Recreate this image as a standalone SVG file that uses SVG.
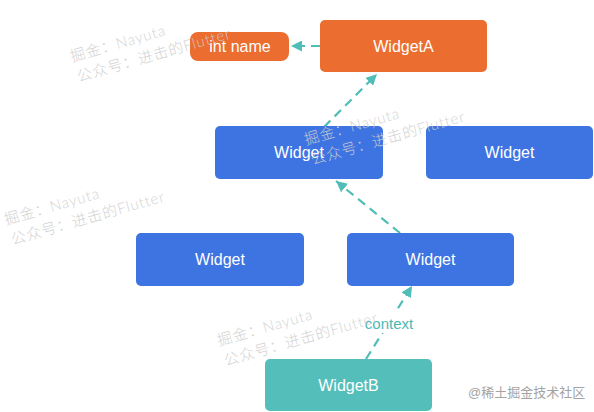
<svg xmlns="http://www.w3.org/2000/svg" width="594" height="412" viewBox="0 0 594 412">
<style>
.lbl{font-family:"Liberation Sans","Noto Sans CJK SC",Arial,sans-serif;font-size:16px;fill:#ffffff;text-anchor:middle}
.blue{fill:#3E74E1}
.orange{fill:#EB6D2F}
.teal{fill:#54BEBA}
.edge{stroke:#50BDB8;stroke-width:2.2;fill:none;stroke-dasharray:9 6}
.wm{font-family:"Lato","Noto Sans CJK SC",sans-serif;font-size:15px;font-weight:300;fill:#cfcfcf;opacity:0.9;letter-spacing:0.8px}
.ctx{font-family:"Liberation Sans","Noto Sans CJK SC",sans-serif;font-size:15px;fill:#4DB8B3;text-anchor:middle}
</style>
<defs>
<marker id="arr" viewBox="0 0 10 10" refX="10" refY="5" markerWidth="11" markerHeight="11" markerUnits="userSpaceOnUse" orient="auto">
<path d="M0,0 L10,5 L0,10 z" fill="#50BDB8"/>
</marker>
</defs>
<rect width="594" height="412" fill="#ffffff"/>
<g id="connectors">
<line class="edge" x1="320" y1="46" x2="291" y2="46" marker-end="url(#arr)"/>
<line class="edge" x1="324" y1="127" x2="377" y2="74" marker-end="url(#arr)"/>
<line class="edge" x1="400" y1="233" x2="336" y2="181" marker-end="url(#arr)"/>
<line class="edge" x1="366" y1="359" x2="412" y2="286" marker-end="url(#arr)"/>
<rect x="360" y="313" width="58" height="20" fill="#ffffff"/>
<text class="ctx" x="389" y="329">context</text>
</g>
<g id="intname"><rect class="orange" x="190" y="32" width="99" height="29" rx="8"/><text class="lbl" x="240" y="52">int name</text></g>
<g id="widgetA"><rect class="orange" x="320" y="20" width="167" height="52" rx="5"/><text class="lbl" x="403.5" y="52">WidgetA</text></g>
<g id="widget1"><rect class="blue" x="215" y="126" width="168" height="53" rx="5"/><text class="lbl" x="299" y="158">Widget</text></g>
<g id="widget2"><rect class="blue" x="426" y="126" width="167" height="53" rx="5"/><text class="lbl" x="509.5" y="158">Widget</text></g>
<g id="widget3"><rect class="blue" x="136" y="233" width="168" height="53" rx="5"/><text class="lbl" x="220" y="265">Widget</text></g>
<g id="widget4"><rect class="blue" x="347" y="233" width="167" height="53" rx="5"/><text class="lbl" x="430.5" y="265">Widget</text></g>
<g id="widgetB"><rect class="teal" x="265" y="359" width="167" height="52" rx="5"/><text class="lbl" x="348.5" y="391">WidgetB</text></g>
<g id="watermarks">
<g transform="translate(72,62) rotate(-16)"><text class="wm" x="0" y="0">掘金：Nayuta</text><text class="wm" x="1" y="21">公众号：进击的Flutter</text></g>
<g transform="translate(306,145) rotate(-16)"><text class="wm" x="0" y="0">掘金：Nayuta</text><text class="wm" x="1" y="21">公众号：进击的Flutter</text></g>
<g transform="translate(6,225) rotate(-16)"><text class="wm" x="0" y="0">掘金：Nayuta</text><text class="wm" x="1" y="21">公众号：进击的Flutter</text></g>
<g transform="translate(219,346) rotate(-16)"><text class="wm" x="0" y="0">掘金：Nayuta</text><text class="wm" x="1" y="21">公众号：进击的Flutter</text></g>
<text x="468" y="397" style="font-family:'Liberation Sans','Noto Sans CJK SC',sans-serif;font-size:13px;fill:#a3a3a3">@稀土掘金技术社区</text>
</g>
</svg>
